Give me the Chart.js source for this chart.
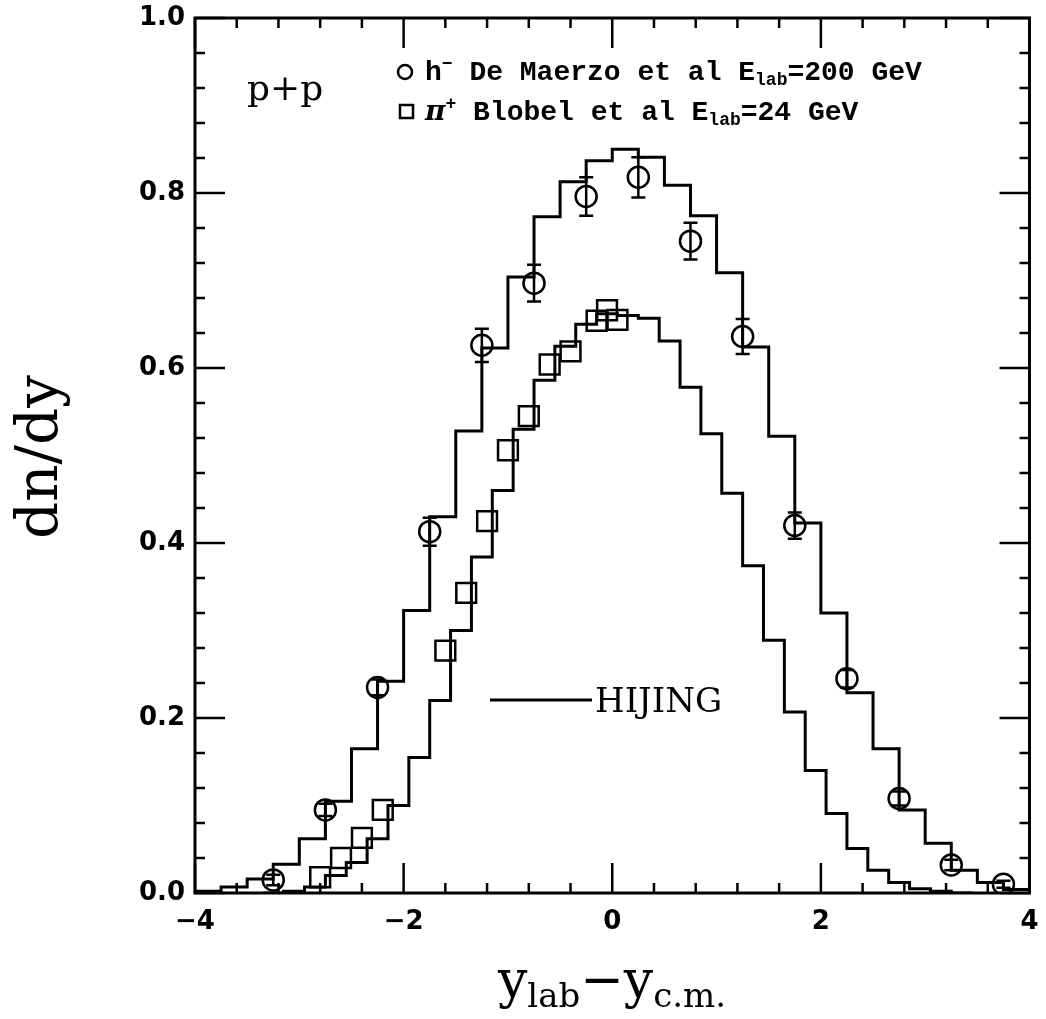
<!DOCTYPE html>
<html>
<head>
<meta charset="utf-8">
<script src="https://cdn.jsdelivr.net/npm/chart.js@4.4.0/dist/chart.umd.min.js"></script>
<style>
  html, body { margin: 0; padding: 0; background: #fff; }
  #wrap { width: 1046px; height: 1019px; }
</style>
</head>
<body>
<div id="wrap"><canvas id="dndyChart" width="1046" height="1019"></canvas></div>
<script>
// HIJING h- (200 GeV): bin edges and bin contents
const hijingHmEdges = [-4, -3.75, -3.5, -3.25, -3, -2.75, -2.5, -2.25, -2, -1.75, -1.5, -1.25, -1, -0.75, -0.5, -0.25,
  0, 0.25, 0.5, 0.75, 1, 1.25, 1.5, 1.75, 2, 2.25, 2.5, 2.75, 3, 3.25, 3.5, 3.75, 4];
const hijingHmValues = [0.002, 0.007, 0.016, 0.033, 0.062, 0.105, 0.165, 0.242, 0.323, 0.430, 0.528, 0.623, 0.704, 0.773, 0.813, 0.837,
  0.850, 0.841, 0.809, 0.774, 0.709, 0.624, 0.522, 0.423, 0.320, 0.229, 0.165, 0.095, 0.057, 0.026, 0.012, 0.004];

// HIJING pi+ (24 GeV): bin edges and bin contents
const hijingPiEdges = [-3.35, -3.15, -2.95, -2.75, -2.55, -2.35, -2.15, -1.95, -1.75, -1.55, -1.35, -1.15, -0.95, -0.75, -0.55, -0.35, -0.15,
  0.05, 0.25, 0.45, 0.65, 0.85, 1.05, 1.25, 1.45, 1.65, 1.85, 2.05, 2.25, 2.45, 2.65, 2.85, 3.05, 3.25, 3.45];
const hijingPiValues = [0.000, 0.002, 0.007, 0.020, 0.035, 0.062, 0.100, 0.155, 0.220, 0.300, 0.384, 0.460, 0.530, 0.586, 0.625, 0.650, 0.662,
  0.660, 0.657, 0.631, 0.578, 0.525, 0.457, 0.374, 0.289, 0.207, 0.140, 0.091, 0.051, 0.026, 0.012, 0.005, 0.002, 0.000];

// h- De Maerzo et al, E_lab = 200 GeV
const hmY = [-3.25, -2.75, -2.25, -1.75, -1.25, -0.75, -0.25, 0.25, 0.75, 1.25, 1.75, 2.25, 2.75, 3.25, 3.75];
const hmDndy = [0.015, 0.095, 0.235, 0.413, 0.626, 0.697, 0.796, 0.818, 0.745, 0.636, 0.420, 0.245, 0.108, 0.032, 0.010];
const hmErr = [0.006, 0.007, 0.009, 0.016, 0.019, 0.021, 0.022, 0.023, 0.021, 0.020, 0.015, 0.010, 0.008, 0.006, 0.004];

// pi+ Blobel et al, E_lab = 24 GeV
const piY = [-2.8, -2.6, -2.4, -2.2, -1.6, -1.4, -1.2, -1.0, -0.8, -0.6, -0.4, -0.15, -0.05, 0.05];
const piDndy = [0.018, 0.040, 0.063, 0.095, 0.277, 0.343, 0.425, 0.506, 0.545, 0.604, 0.619, 0.654, 0.666, 0.655];

const xTicks = [-4, -2, 0, 2, 4];
const yTicks = [0, 0.2, 0.4, 0.6, 0.8, 1.0];

function histPoints(edges, values) {
  const pts = values.map((v, i) => ({ x: edges[i], y: v }));
  pts.push({ x: edges[edges.length - 1], y: values[values.length - 1] });
  return pts;
}

// frame + inside ticks on all four sides (5 subdivisions per major)
const frameTicks = {
  id: 'frameTicks',
  afterDraw(chart) {
    const { ctx, chartArea: a, scales: { x, y } } = chart;
    ctx.save();
    ctx.strokeStyle = '#000';
    ctx.lineWidth = 3;
    ctx.strokeRect(a.left, a.top, a.right - a.left, a.bottom - a.top);
    ctx.lineWidth = 2.5;
    ctx.beginPath();
    const xStep = (xTicks[1] - xTicks[0]) / 5;
    for (let i = 0; i <= Math.round((xTicks[xTicks.length - 1] - xTicks[0]) / xStep); i++) {
      const px = x.getPixelForValue(xTicks[0] + i * xStep);
      const len = i % 5 === 0 ? 30 : 10;
      ctx.moveTo(px, a.bottom); ctx.lineTo(px, a.bottom - len);
      ctx.moveTo(px, a.top); ctx.lineTo(px, a.top + len);
    }
    const yStep = (yTicks[1] - yTicks[0]) / 5;
    for (let i = 0; i <= Math.round((yTicks[yTicks.length - 1] - yTicks[0]) / yStep); i++) {
      const py = y.getPixelForValue(yTicks[0] + i * yStep);
      const len = i % 5 === 0 ? 30 : 10;
      ctx.moveTo(a.left, py); ctx.lineTo(a.left + len, py);
      ctx.moveTo(a.right, py); ctx.lineTo(a.right - len, py);
    }
    ctx.stroke();
    ctx.restore();
  }
};

const errorBars = {
  id: 'errorBars',
  afterDatasetsDraw(chart) {
    const { ctx, scales: { x, y } } = chart;
    ctx.save();
    ctx.strokeStyle = '#000';
    ctx.lineWidth = 2.5;
    hmY.forEach((v, i) => {
      const px = x.getPixelForValue(v);
      const lo = y.getPixelForValue(hmDndy[i] - hmErr[i]);
      const hi = y.getPixelForValue(hmDndy[i] + hmErr[i]);
      ctx.beginPath();
      ctx.moveTo(px, lo); ctx.lineTo(px, hi);
      ctx.moveTo(px - 7, lo); ctx.lineTo(px + 7, lo);
      ctx.moveTo(px - 7, hi); ctx.lineTo(px + 7, hi);
      ctx.stroke();
    });
    ctx.restore();
  }
};

function drawRich(ctx, x, y, parts) {
  parts.forEach(p => {
    ctx.font = p.font;
    ctx.fillText(p.t, x, y + (p.dy || 0));
    x += ctx.measureText(p.t).width;
  });
  return x;
}

function richWidth(ctx, parts) {
  let w = 0;
  parts.forEach(p => { ctx.font = p.font; w += ctx.measureText(p.t).width; });
  return w;
}

const annotations = {
  id: 'annotations',
  afterDraw(chart) {
    const { ctx } = chart;
    ctx.save();
    ctx.fillStyle = '#000';
    ctx.strokeStyle = '#000';
    ctx.textBaseline = 'alphabetic';
    ctx.textAlign = 'left';

    ctx.font = '36px "DejaVu Serif"';
    ctx.fillText('p+p', 247, 100);

    // legend symbols
    ctx.lineWidth = 2.5;
    ctx.beginPath();
    ctx.arc(405, 72, 7, 0, Math.PI * 2);
    ctx.stroke();
    ctx.strokeRect(400, 105, 13, 13);

    const big = 'bold 28px "Liberation Mono"';
    const sup = 'bold 18px "Liberation Mono"';
    const sub = 'bold 18px "Liberation Mono"';
    drawRich(ctx, 425, 80, [
      { t: 'h', font: big },
      { t: '\u2212', font: sup, dy: -11 },
      { t: ' De Maerzo et al E', font: big },
      { t: 'lab', font: sub, dy: 5 },
      { t: '=200 GeV', font: big }
    ]);
    drawRich(ctx, 425, 120, [
      { t: '\u03c0', font: 'bold italic 28px "DejaVu Serif"' },
      { t: '+', font: sup, dy: -11 },
      { t: ' Blobel et al E', font: big },
      { t: 'lab', font: sub, dy: 5 },
      { t: '=24 GeV', font: big }
    ]);

    // HIJING key
    ctx.lineWidth = 3;
    ctx.beginPath();
    ctx.moveTo(490, 700);
    ctx.lineTo(592, 700);
    ctx.stroke();
    ctx.font = '34px "DejaVu Serif"';
    ctx.fillText('HIJING', 595, 712);

    // y title
    ctx.save();
    ctx.translate(57, 457);
    ctx.rotate(-Math.PI / 2);
    ctx.textAlign = 'center';
    ctx.font = '58px "DejaVu Serif"';
    ctx.fillText('dn/dy', 0, 0);
    ctx.restore();

    // x title
    const main = '52px "DejaVu Serif"';
    const small = '34px "DejaVu Serif"';
    const xt = [
      { t: 'y', font: main },
      { t: 'lab', font: small, dy: 10 },
      { t: '\u2212', font: main },
      { t: 'y', font: main },
      { t: 'c.m.', font: small, dy: 10 }
    ];
    const w = richWidth(ctx, xt);
    drawRich(ctx, 612 - w / 2, 997, xt);
    ctx.restore();
  }
};

const tickFont = { family: 'DejaVu Sans', weight: 'bold', size: 26 };

new Chart(document.getElementById('dndyChart'), {
  type: 'scatter',
  data: {
    datasets: [
      {
        label: 'HIJING h-',
        data: histPoints(hijingHmEdges, hijingHmValues),
        showLine: true, stepped: true,
        borderColor: '#000', borderWidth: 3, pointRadius: 0, fill: false
      },
      {
        label: 'HIJING pi+',
        data: histPoints(hijingPiEdges, hijingPiValues),
        showLine: true, stepped: true,
        borderColor: '#000', borderWidth: 3, pointRadius: 0, fill: false
      },
      {
        label: 'h- De Maerzo et al',
        data: hmY.map((v, i) => ({ x: v, y: hmDndy[i] })),
        pointStyle: 'circle', pointRadius: 10.5, pointBorderWidth: 2.5,
        pointBorderColor: '#000', pointBackgroundColor: 'rgba(0,0,0,0)'
      },
      {
        label: 'pi+ Blobel et al',
        data: piY.map((v, i) => ({ x: v, y: piDndy[i] })),
        pointStyle: 'rect', pointRadius: 14, pointBorderWidth: 2.5,
        pointBorderColor: '#000', pointBackgroundColor: 'rgba(0,0,0,0)'
      }
    ]
  },
  options: {
    responsive: false,
    animation: false,
    layout: { padding: { left: 0, right: 11, top: 18, bottom: 0 } },
    plugins: { legend: { display: false }, tooltip: { enabled: false } },
    scales: {
      x: {
        type: 'linear', min: -4, max: 4,
        grid: { display: false, drawTicks: false },
        border: { display: false },
        afterBuildTicks: s => { s.ticks = xTicks.map(v => ({ value: v })); },
        afterFit: s => { s.height = 126; s.paddingLeft = 0; s.paddingRight = 0; },
        ticks: {
          color: '#000', font: tickFont, padding: 14, maxRotation: 0,
          callback: v => (v < 0 ? '\u2212' + Math.abs(v) : String(v))
        }
      },
      y: {
        type: 'linear', min: 0, max: 1,
        grid: { display: false, drawTicks: false },
        border: { display: false },
        afterBuildTicks: s => { s.ticks = yTicks.map(v => ({ value: v })); },
        afterFit: s => { s.width = 195; s.paddingTop = 0; s.paddingBottom = 0; },
        ticks: { color: '#000', font: tickFont, padding: 10, callback: v => v.toFixed(1) }
      }
    }
  },
  plugins: [frameTicks, errorBars, annotations]
});
</script>
</body>
</html>
